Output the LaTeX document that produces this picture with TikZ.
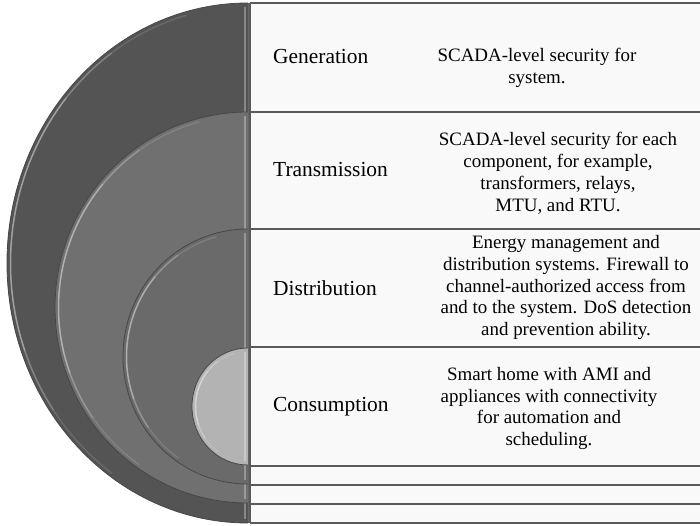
\documentclass[tikz,border=0pt]{standalone}
\usepackage{fontspec}
\setmainfont{Liberation Serif}
\definecolor{diskA}{HTML}{545454}
\definecolor{diskB}{HTML}{707070}
\definecolor{diskC}{HTML}{6A6A6A}
\definecolor{diskD}{HTML}{B3B3B3}
\definecolor{rowbg}{HTML}{F9F9F9}
\definecolor{rule}{HTML}{5A5A5A}
\begin{document}
\begin{tikzpicture}[x=1bp,y=-1bp,
  rim/.style={draw=black!72, line width=0.8},
  gloss/.style={draw=white, line width=1.5},
  edgeglow/.style={draw=white, opacity=0.3, line width=2.2},
  rowline/.style={draw=rule, line width=1.3},
  stage/.style={anchor=west, inner sep=0, font=\fontsize{21.5}{24}\selectfont},
  descr/.style={align=center, inner sep=0, font=\fontsize{19}{22}\selectfont}]
\useasboundingbox (0,0) rectangle (700,526);
\fill[white] (0,0) rectangle (700,526);

% table area on the right
\fill[rowbg] (250,3) rectangle (700,523);
\foreach \y in {3,112,229,347,466,485,504,523}
  \draw[rowline] (250,\y) -- (700,\y);
\draw[rowline] (250,3) -- (250,523);

% nested half disks: centre y, x radius, y radius, colour
\foreach \cy/\rx/\ry/\col in {263/241/260/diskA, 307.5/193/195.5/diskB, 356.5/125/127.5/diskC, 406.5/56/58.5/diskD}{
  \fill[\col] (248,{\cy-\ry}) arc[start angle=270, end angle=90, x radius=\rx, y radius=\ry] -- cycle;
  \draw[rim] (248,{\cy-\ry}) arc[start angle=270, end angle=90, x radius=\rx, y radius=\ry];
  % bevel highlight along the curved edge, tapered at both ends
  \foreach \a/\b/\o in {255/235/0.12, 235/220/0.28, 220/160/0.45, 160/145/0.28, 145/125/0.12}{
    \draw[gloss, opacity=\o] ({248+(\rx-3.5)*cos(\a)},{\cy+(\ry-3.5)*sin(\a)})
       arc[start angle=\a, end angle=\b, x radius={\rx-3.5}, y radius={\ry-3.5}];
  }
  \draw[edgeglow] (245,{\cy-\ry+4}) -- (245,{\cy+\ry-4});
}
\draw[draw=black!60, line width=1] (248.5,3) -- (248.5,523);

% stage names
\node[stage] (gen) at (273,57) {Generation};
\node[stage] (tra) at (273,170) {Transmission};
\node[stage] (dis) at (273,288) {Distribution};
\node[stage] (con) at (273,407) {Consumption};

% security measures per stage
\node[descr] (genD) at (537,67.5) {SCADA-level security for\\system.};
\node[descr] (traD) at (558,173.5) {SCADA-level security for each\\component, for example,\\transformers, relays,\\MTU, and RTU.};
\node[descr] (disD) at (566,287.5) {Energy management and\\distribution systems. Firewall to\\channel-authorized access from\\and to the system. DoS detection\\and prevention ability.};
\node[descr] (conD) at (549,408.5) {Smart home with AMI and\\appliances with connectivity\\for automation and\\scheduling.};
\end{tikzpicture}
\end{document}
